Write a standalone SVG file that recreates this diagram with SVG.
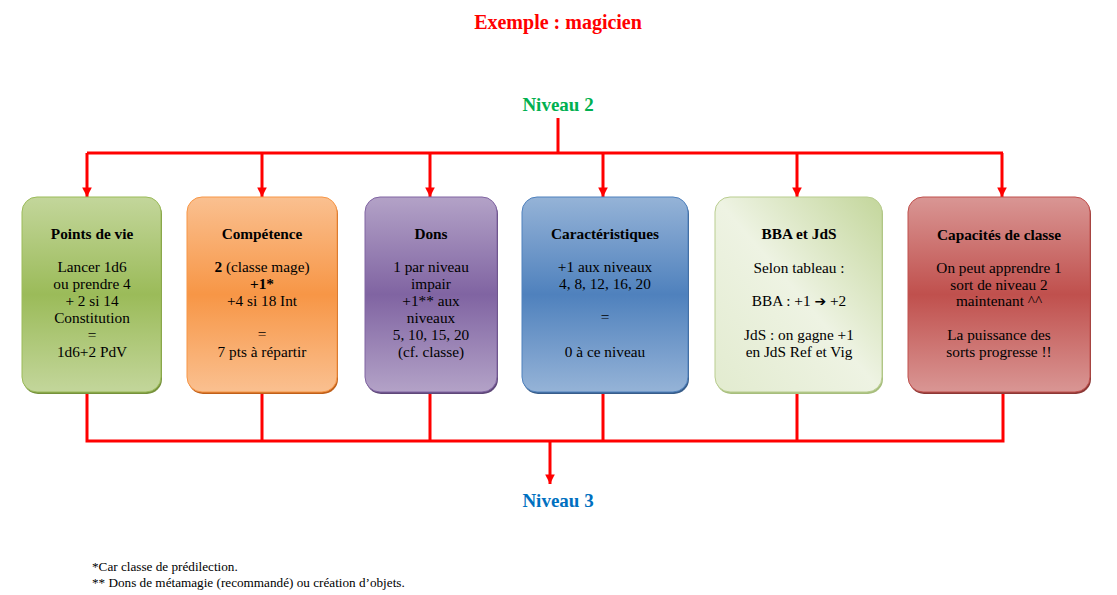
<svg xmlns="http://www.w3.org/2000/svg" width="1117" height="595" viewBox="0 0 1117 595">
<style>
text{font-family:"Liberation Serif","Times New Roman",serif;fill:#000;}
.t{font-size:15.3px;text-anchor:middle;}
.b{font-weight:bold;}
.h{font-size:19px;font-weight:bold;text-anchor:middle;}
.fn{font-size:13.2px;}
.ln{stroke:#FF0000;stroke-width:3;fill:none;}
</style>
<defs>
<marker id="ah" viewBox="0 0 10 10" refX="10" refY="5" markerWidth="3.2" markerHeight="3.2" orient="auto" markerUnits="strokeWidth">
<path d="M0,0 L10,5 L0,10 Z" fill="#FF0000"/>
</marker>
<linearGradient id="gGreen" x1="0" y1="0" x2="0" y2="1">
<stop offset="0" stop-color="#C3D69B"/><stop offset="0.5" stop-color="#9BBB59"/><stop offset="1" stop-color="#C3D69B"/>
</linearGradient>
<linearGradient id="gOrange" x1="0" y1="0" x2="0" y2="1">
<stop offset="0" stop-color="#FAC090"/><stop offset="0.5" stop-color="#F79646"/><stop offset="1" stop-color="#FAC090"/>
</linearGradient>
<linearGradient id="gPurple" x1="0" y1="0" x2="0" y2="1">
<stop offset="0" stop-color="#B3A2C7"/><stop offset="0.5" stop-color="#8064A2"/><stop offset="1" stop-color="#B3A2C7"/>
</linearGradient>
<linearGradient id="gBlue" x1="0" y1="0" x2="0" y2="1">
<stop offset="0" stop-color="#95B3D7"/><stop offset="0.5" stop-color="#4F81BD"/><stop offset="1" stop-color="#95B3D7"/>
</linearGradient>
<linearGradient id="gLight" x1="1" y1="0" x2="0" y2="1">
<stop offset="0" stop-color="#C3D69B"/><stop offset="0.5" stop-color="#EEF3E3"/><stop offset="1" stop-color="#E2EBCF"/>
</linearGradient>
<linearGradient id="gRed" x1="0" y1="0" x2="0" y2="1">
<stop offset="0" stop-color="#D99694"/><stop offset="0.5" stop-color="#C0504D"/><stop offset="1" stop-color="#D99694"/>
</linearGradient>
</defs>
<rect width="1117" height="595" fill="#FFFFFF"/>

<text x="558" y="29" font-size="20px" font-weight="bold" text-anchor="middle" style="fill:#FF0000">Exemple : magicien</text>

<g id="niveau2"><text class="h" x="558" y="111" style="fill:#00B050">Niveau 2</text></g>
<g id="niveau3"><text class="h" x="558" y="507" style="fill:#0070C0">Niveau 3</text></g>

<g id="connectors">
<path class="ln" d="M558,118 V153 M87,153 H1003"/>
<path class="ln" d="M87,153 V197" marker-end="url(#ah)"/>
<path class="ln" d="M262,153 V197" marker-end="url(#ah)"/>
<path class="ln" d="M430,153 V197" marker-end="url(#ah)"/>
<path class="ln" d="M603,153 V197" marker-end="url(#ah)"/>
<path class="ln" d="M797,153 V197" marker-end="url(#ah)"/>
<path class="ln" d="M1002,153 V197" marker-end="url(#ah)"/>
<path class="ln" d="M87,393 V441 H1003 V393 M262,393 V441 M430,393 V441 M603,393 V441 M797,393 V441"/>
<path class="ln" d="M550,441 V484" marker-end="url(#ah)"/>
</g>

<g id="box1">
<rect x="23" y="199" width="139" height="195" rx="15" fill="#76923C"/>
<rect x="22" y="197" width="139" height="195" rx="15" fill="url(#gGreen)" stroke="#9BBB59" stroke-width="1"/>
<text class="t b" x="92" y="239">Points de vie</text>
<text class="t" x="92" y="272">Lancer 1d6</text>
<text class="t" x="92" y="289">ou prendre 4</text>
<text class="t" x="92" y="306">+ 2 si 14</text>
<text class="t" x="92" y="323">Constitution</text>
<text class="t" x="92" y="340">=</text>
<text class="t" x="92" y="357">1d6+2 PdV</text>
</g>

<g id="box2">
<rect x="188" y="199" width="150" height="195" rx="15" fill="#C0601A"/>
<rect x="187" y="197" width="150" height="195" rx="15" fill="url(#gOrange)" stroke="#F79646" stroke-width="1"/>
<text class="t b" x="262" y="239">Compétence</text>
<text class="t" x="262" y="272"><tspan class="b">2</tspan> (classe mage)</text>
<text class="t b" x="262" y="289">+1*</text>
<text class="t" x="262" y="306">+4 si 18 Int</text>
<text class="t" x="262" y="339">=</text>
<text class="t" x="262" y="357">7 pts à répartir</text>
</g>

<g id="box3">
<rect x="366" y="199" width="132" height="195" rx="15" fill="#5F4879"/>
<rect x="365" y="197" width="132" height="195" rx="15" fill="url(#gPurple)" stroke="#8064A2" stroke-width="1"/>
<text class="t b" x="431" y="239">Dons</text>
<text class="t" x="431" y="272">1 par niveau</text>
<text class="t" x="431" y="289">impair</text>
<text class="t" x="431" y="306">+1** aux</text>
<text class="t" x="431" y="323">niveaux</text>
<text class="t" x="431" y="340">5, 10, 15, 20</text>
<text class="t" x="431" y="357">(cf. classe)</text>
</g>

<g id="box4">
<rect x="523" y="199" width="166" height="195" rx="15" fill="#385D8A"/>
<rect x="522" y="197" width="166" height="195" rx="15" fill="url(#gBlue)" stroke="#4F81BD" stroke-width="1"/>
<text class="t b" x="605" y="239">Caractéristiques</text>
<text class="t" x="605" y="272">+1 aux niveaux</text>
<text class="t" x="605" y="289">4, 8, 12, 16, 20</text>
<text class="t" x="605" y="322">=</text>
<text class="t" x="605" y="357">0 à ce niveau</text>
</g>

<g id="box5">
<rect x="716" y="199" width="167" height="195" rx="15" fill="#A7BE7D"/>
<rect x="715" y="197" width="167" height="195" rx="15" fill="url(#gLight)" stroke="#B9CD8F" stroke-width="1"/>
<text class="t b" x="799" y="239">BBA et JdS</text>
<text class="t" x="799" y="273">Selon tableau :</text>
<text class="t" x="799" y="306">BBA : +1 <tspan style="font-family:'DejaVu Sans',sans-serif" font-size="14px">➔</tspan> +2</text>
<text class="t" x="799" y="340">JdS : on gagne +1</text>
<text class="t" x="799" y="357">en JdS Ref et Vig</text>
</g>

<g id="box6">
<rect x="909" y="199" width="182" height="195" rx="15" fill="#8C3836"/>
<rect x="908" y="197" width="182" height="195" rx="15" fill="url(#gRed)" stroke="#C0504D" stroke-width="1"/>
<text class="t b" x="999" y="240">Capacités de classe</text>
<text class="t" x="999" y="273">On peut apprendre 1</text>
<text class="t" x="999" y="290">sort de niveau 2</text>
<text class="t" x="999" y="306">maintenant ^^</text>
<text class="t" x="999" y="340">La puissance des</text>
<text class="t" x="999" y="357">sorts progresse !!</text>
</g>

<text class="fn" x="92" y="571">*Car classe de prédilection.</text>
<text class="fn" x="92" y="587">** Dons de métamagie (recommandé) ou création d’objets.</text>
</svg>
